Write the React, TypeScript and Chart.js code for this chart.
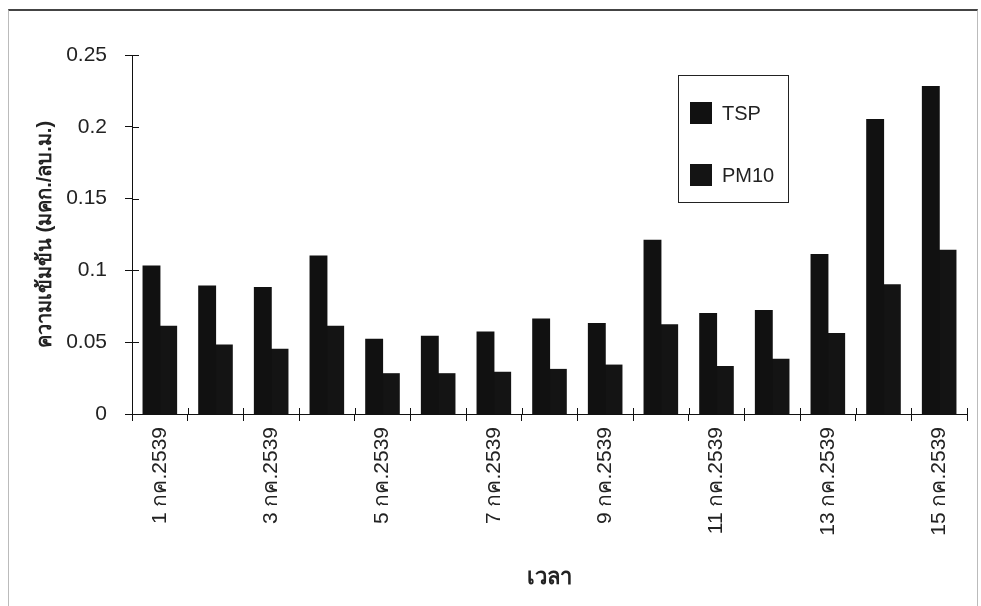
import React, { useEffect, useRef } from "react";
import { Chart, registerables } from "chart.js";

Chart.register(...registerables);

const categories = [
  "1 กค.2539", "2 กค.2539", "3 กค.2539", "4 กค.2539", "5 กค.2539",
  "6 กค.2539", "7 กค.2539", "8 กค.2539", "9 กค.2539", "10 กค.2539",
  "11 กค.2539", "12 กค.2539", "13 กค.2539", "14 กค.2539", "15 กค.2539",
];
const tspValues = [0.103, 0.089, 0.088, 0.110, 0.052, 0.054, 0.057, 0.066, 0.063, 0.121, 0.070, 0.072, 0.111, 0.205, 0.228];
const pm10Values = [0.061, 0.048, 0.045, 0.061, 0.028, 0.028, 0.029, 0.031, 0.034, 0.062, 0.033, 0.038, 0.056, 0.090, 0.114];
const yTicks = [0, 0.05, 0.1, 0.15, 0.2, 0.25];
const seriesNames = ["TSP", "PM10"];
const yTitle = "ความเข้มข้น (มคก./ลบ.ม.)";
const xTitle = "เวลา";

const FONT = "'Liberation Sans', Arial, 'Noto Sans', sans-serif";

const crossTicks = {
  id: "crossTicks",
  afterDraw(chart: any) {
    const { ctx, chartArea, scales } = chart;
    const x = scales.x;
    const y = scales.y;
    ctx.save();
    ctx.strokeStyle = "#111";
    ctx.lineWidth = 1;
    ctx.beginPath();
    y.ticks.forEach((_t: any, i: number) => {
      const py = Math.round(y.getPixelForTick(i)) + 0.5;
      ctx.moveTo(chartArea.left, py);
      ctx.lineTo(chartArea.left + 7, py);
    });
    const half = (x.getPixelForValue(1) - x.getPixelForValue(0)) / 2;
    for (let i = 0; i <= categories.length; i++) {
      const px = Math.round(x.getPixelForValue(i) - half) + 0.5;
      ctx.moveTo(px, chartArea.bottom);
      ctx.lineTo(px, chartArea.bottom - 6);
    }
    ctx.stroke();
    ctx.restore();
  },
};

const boxLegend = {
  id: "boxLegend",
  afterDraw(chart: any, _args: any, opts: any) {
    const { ctx } = chart;
    const { x, y, w, h } = opts;
    ctx.save();
    ctx.fillStyle = "#fff";
    ctx.fillRect(x, y, w, h);
    ctx.strokeStyle = "#222";
    ctx.lineWidth = 1;
    ctx.strokeRect(x + 0.5, y + 0.5, w, h);
    ctx.font = `20px ${FONT}`;
    ctx.textBaseline = "middle";
    ctx.textAlign = "left";
    chart.data.datasets.forEach((ds: any, i: number) => {
      const cy = y + 38 + i * 62;
      ctx.fillStyle = ds.backgroundColor;
      ctx.fillRect(x + 12, cy - 11, 22, 22);
      ctx.fillStyle = "#222";
      ctx.fillText(ds.label, x + 44, cy + 1);
    });
    ctx.restore();
  },
};

export default function App() {
  const ref = useRef<HTMLCanvasElement>(null);
  useEffect(() => {
    const chart = new Chart(ref.current as HTMLCanvasElement, {
      type: "bar",
      data: {
        labels: categories,
        datasets: [
          { label: seriesNames[0], data: tspValues, backgroundColor: "#111111", borderWidth: 0, inflateAmount: 0.6 } as any,
          { label: seriesNames[1], data: pm10Values, backgroundColor: "#141414", borderWidth: 0, inflateAmount: 0.6 } as any,
        ],
      },
      plugins: [crossTicks, boxLegend],
      options: {
        animation: false,
        responsive: false,
        maintainAspectRatio: false,
        layout: { padding: { left: 29, top: 55, right: 14, bottom: 11 } },
        datasets: { bar: { barPercentage: 1, categoryPercentage: 0.6 } },
        plugins: {
          legend: { display: false },
          tooltip: { enabled: false },
          boxLegend: { x: 678, y: 75, w: 110, h: 127 },
        } as any,
        scales: {
          x: {
            offset: true,
            afterFit: (s: any) => { s.height = 181; },
            grid: { display: true, offset: true, drawOnChartArea: false, drawTicks: true, tickLength: 7, color: "#111" },
            border: { display: true, color: "#111", width: 1 },
            ticks: {
              autoSkip: false,
              maxRotation: 90,
              minRotation: 90,
              padding: 6,
              color: "#222",
              font: { family: FONT, size: 21 },
              callback: function (this: any, val: any, i: number) {
                return i % 2 === 0 ? this.getLabelForValue(val) : "";
              },
            },
            title: { display: true, text: xTitle, color: "#222", font: { family: FONT, size: 22, weight: "bold" } },
          },
          y: {
            min: 0,
            max: 0.25,
            afterFit: (s: any) => { s.width = 103; },
            afterBuildTicks: (s: any) => { s.ticks = yTicks.map((v) => ({ value: v })); },
            grid: { display: true, drawOnChartArea: false, drawTicks: true, tickLength: 7, color: "#111" },
            border: { display: true, color: "#111", width: 1 },
            ticks: {
              padding: 18,
              color: "#222",
              font: { family: FONT, size: 21 },
              callback: (v: any) => String(Number(v)),
            },
            title: { display: true, text: yTitle, color: "#222", font: { family: FONT, size: 20, weight: "bold" } },
          },
        },
      },
    });
    return () => chart.destroy();
  }, []);
  return (
    <div style={{ position: "fixed", left: 0, top: 0, width: 981, height: 606, background: "#fff" }}>
      <div style={{ position: "absolute", left: 8, top: 9, width: 968, height: 600, borderTop: "2px solid #444", borderLeft: "1px solid #bbb", borderRight: "1px solid #bbb" }} />
      <canvas ref={ref} width={981} height={606} style={{ position: "absolute", left: 0, top: 0 }} />
    </div>
  );
}
